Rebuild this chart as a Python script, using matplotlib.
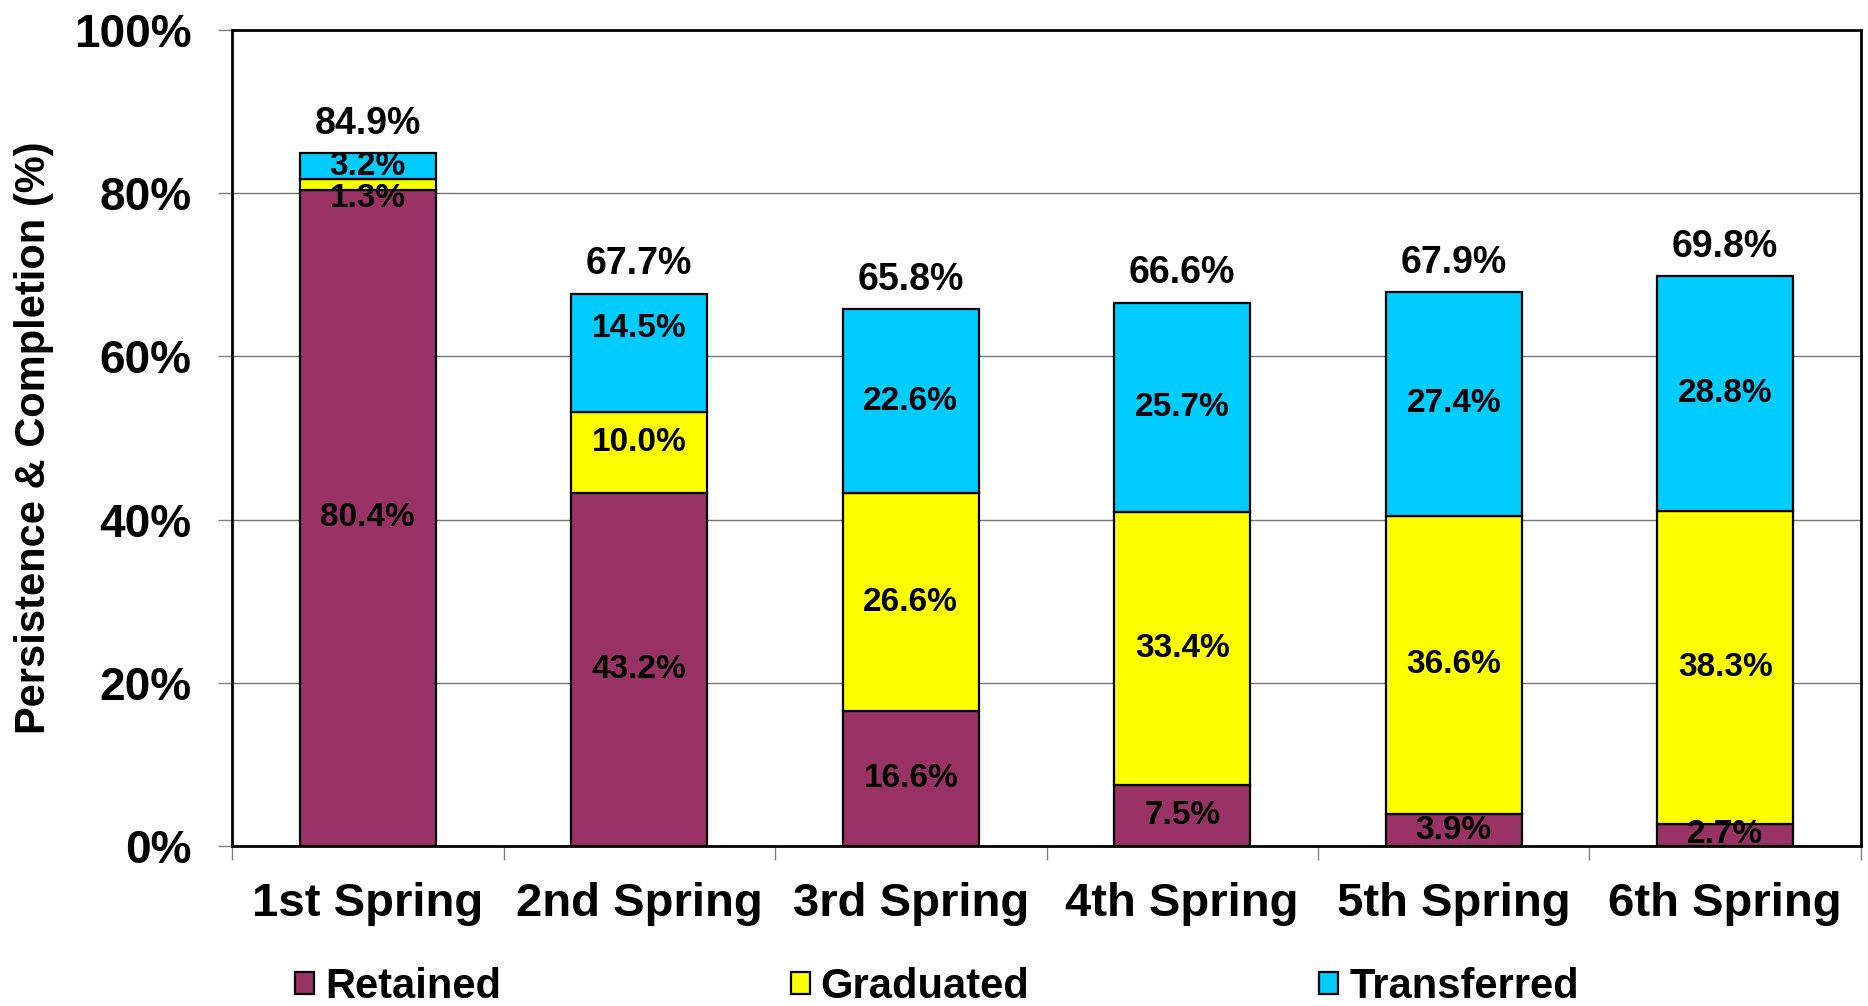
import numpy as np
import matplotlib
matplotlib.use('Agg')
import matplotlib.pyplot as plt
from matplotlib.patches import Patch

plt.rcParams['font.family'] = ['Liberation Sans', 'DejaVu Sans']
plt.rcParams['font.weight'] = 'bold'

categories = ['1st Spring', '2nd Spring', '3rd Spring', '4th Spring', '5th Spring', '6th Spring']
retained = [80.4, 43.2, 16.6, 7.5, 3.9, 2.7]
graduated = [1.3, 10.0, 26.6, 33.4, 36.6, 38.3]
transferred = [3.2, 14.5, 22.6, 25.7, 27.4, 28.8]
series_names = ['Retained', 'Graduated', 'Transferred']
colors = ['#993366', '#FFFF00', '#00CCFF']

# hand-moved labels in the original (series, bar) -> shift in % units
label_nudge = {('Graduated', 0): -1.0, ('Graduated', 1): 1.3, ('Transferred', 1): 3.0}

fig = plt.figure(figsize=(18.68, 10.06), dpi=100)
ax = fig.add_axes([0.1242, 0.15905, 0.87205, 0.81113])

x = np.arange(len(categories))
series = [retained, graduated, transferred]
bottom = np.zeros(len(categories))
for vals, name, col in zip(series, series_names, colors):
    vals = np.array(vals)
    ax.bar(x, vals, bottom=bottom, width=0.5, color=col, edgecolor='black',
           linewidth=1.6, label=name, zorder=3)
    for i, v in enumerate(vals):
        yc = bottom[i] + v / 2 + label_nudge.get((name, i), 0)
        if name == 'Graduated' and i == 0:
            yc = bottom[i] + label_nudge[(name, i)]
        ax.text(x[i], yc, f'{v:.1f}%', ha='center', va='center', fontsize=24,
                fontweight='bold', zorder=5, clip_on=True)
    bottom = bottom + vals

totals = bottom
for i, t in enumerate(totals):
    ax.annotate(f'{t:.1f}%', (x[i], t), xytext=(0, 21), textcoords='offset points',
                ha='center', va='center', fontsize=27, fontweight='bold')

ax.set_xlim(-0.5, len(categories) - 0.5)
ax.set_ylim(0, 100)
ax.set_yticks(np.arange(0, 101, 20))
ax.set_yticklabels([f'{v}%' for v in range(0, 101, 20)], fontsize=33, fontweight='bold')
ax.tick_params(axis='y', length=10, width=1, color='#808080', pad=19)

ax.set_xticks(np.arange(-0.5, len(categories), 1.0))
ax.set_xticklabels([])
ax.tick_params(axis='x', which='major', length=10, width=1, color='#808080')
ax.set_xticks(x, minor=True)
ax.set_xticklabels(categories, minor=True, fontsize=34, fontweight='bold')
ax.tick_params(axis='x', which='minor', length=0, pad=26)

ax.yaxis.grid(True, color='#777777', linewidth=1, zorder=0)
ax.set_axisbelow(True)
for s in ax.spines.values():
    s.set_linewidth(2)
    s.set_color('black')

ax.set_ylabel('Persistence & Completion (%)', fontsize=30, fontweight='bold')
ax.yaxis.set_label_coords(-0.109, 0.5)

handles = [Patch(facecolor=c, edgecolor='black', linewidth=1.6) for c in colors]
fig.legend(handles, series_names, loc='center left', bbox_to_anchor=(0.158, 0.019),
           ncol=3, frameon=False, prop={'weight': 'bold', 'size': 30},
           handlelength=0.46, handleheight=0.46, handletextpad=0.26, columnspacing=6.95,
           borderpad=0, borderaxespad=0)

fig.savefig('out.png', dpi=100)
